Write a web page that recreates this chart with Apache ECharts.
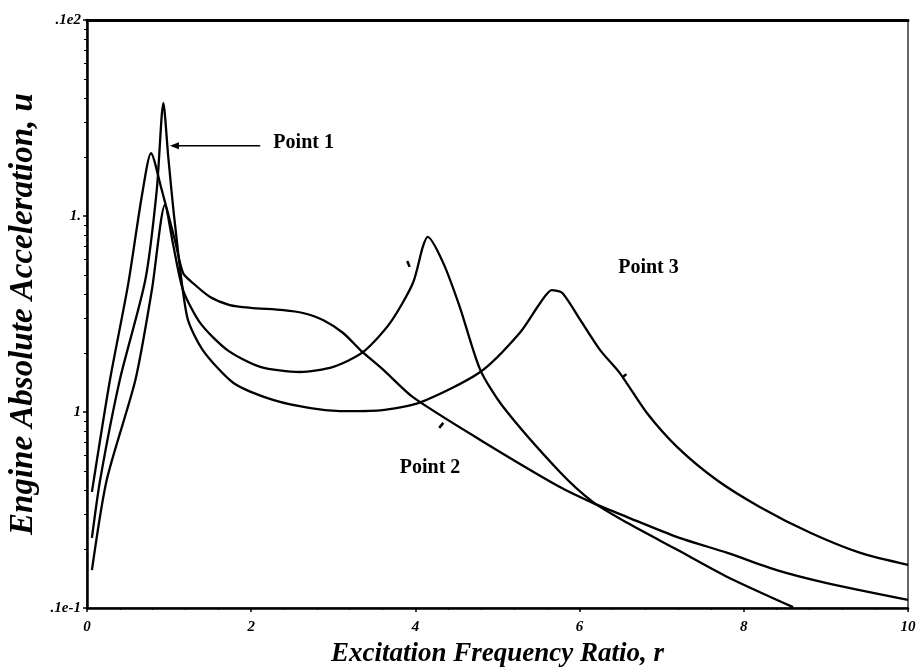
<!DOCTYPE html>
<html>
<head>
<meta charset="utf-8">
<script src="https://cdn.jsdelivr.net/npm/echarts@6/dist/echarts.min.js"></script>
<style>html,body{margin:0;padding:0;background:#fff}#c{width:919px;height:667px}</style>
</head>
<body>
<div id="c"></div>
<script>
// Curve with plateau (first peak ~0.78)
const rP = [0.06,0.28,0.50,0.67,0.78,0.91,1.07,1.17,1.29,1.50,1.74,1.99,2.39,2.63,2.88,3.12,3.33,3.61,3.97,4.79,5.76,6.16,6.58,7.19,7.80,8.40,9.01,10.0];
const vP = [0.0391,0.146,0.445,1.28,2.09,1.36,0.755,0.512,0.455,0.386,0.351,0.340,0.331,0.320,0.294,0.253,0.207,0.164,0.119,0.072,0.0414,0.0344,0.0291,0.0230,0.0191,0.0156,0.0134,0.0110];
// Curve with second peak ~4.15
const rL = [0.06,0.24,0.59,0.79,0.95,1.05,1.17,1.38,1.71,2.11,2.59,3.00,3.36,3.69,3.97,4.09,4.15,4.34,4.54,4.79,5.07,5.76,6.16,6.58,7.19,7.80,8.60];
const vL = [0.0156,0.045,0.146,0.419,1.14,0.711,0.419,0.284,0.207,0.170,0.160,0.170,0.202,0.284,0.455,0.695,0.782,0.575,0.344,0.164,0.106,0.0494,0.0348,0.0272,0.0198,0.0144,0.0101];
// Curve with tallest first peak and second peak ~5.66
const rT = [0.06,0.16,0.40,0.71,0.85,0.93,0.99,1.07,1.22,1.41,1.78,2.19,2.59,3.08,3.57,4.06,4.79,5.27,5.52,5.66,5.79,6.01,6.25,6.49,6.82,7.19,7.67,8.20,8.81,9.42,10.0];
const vT = [0.0228,0.045,0.146,0.471,1.36,3.78,2.00,0.921,0.305,0.207,0.141,0.118,0.107,0.101,0.102,0.112,0.160,0.253,0.360,0.419,0.405,0.294,0.207,0.158,0.0988,0.0662,0.045,0.0327,0.0242,0.0191,0.0166];
const xTicks = [0,2,4,6,8,10];
const yTickText = {'0.01':'.1e-1','0.1':'1','1':'1.','10':'.1e2'};

const pair = (r,v)=>r.map((x,i)=>[x,v[i]]);
const serif = '"Liberation Serif","DejaVu Serif",serif';
const chart = echarts.init(document.getElementById('c'));
const lineStyle = {color:'#000', width:2.3};
const mk = (name,d)=>({type:'line',name,data:d,showSymbol:false,smooth:0.25,lineStyle,clip:true});
chart.setOption({
  animation:false,
  backgroundColor:'#fff',
  grid:{left:87,right:11,top:20,bottom:59,show:true,borderColor:'#000',borderWidth:1.2,containLabel:false,outerBoundsMode:'none'},
  xAxis:[{type:'value',min:0,max:10,interval:2,
    name:'Excitation Frequency Ratio, r',nameLocation:'middle',nameGap:33,
    nameTextStyle:{fontFamily:serif,fontStyle:'italic',fontWeight:'bold',fontSize:27,color:'#000'},
    axisLine:{lineStyle:{color:'#000',width:2.5}},
    axisTick:{inside:false,length:4,lineStyle:{color:'#000',width:1.5}},
    minorTick:{show:true,splitNumber:5,length:2,lineStyle:{color:'#000'}},
    splitLine:{show:false},
    axisLabel:{fontFamily:serif,fontStyle:'italic',fontWeight:'bold',fontSize:15,color:'#000',margin:12,
      formatter:v=>xTicks.includes(v)?String(v):''}
  },{type:'value',min:0,max:10,interval:2,position:'top',
    axisLine:{lineStyle:{color:'#000',width:3}},
    axisTick:{inside:true,length:2,lineStyle:{color:'#000'}},
    axisLabel:{show:false},splitLine:{show:false}
  }],
  yAxis:{type:'log',logBase:10,min:0.01,max:10,
    name:'Engine Absolute Acceleration, u',nameLocation:'middle',nameGap:41,
    nameTextStyle:{fontFamily:serif,fontStyle:'italic',fontWeight:'bold',fontSize:33,color:'#000'},
    axisLine:{lineStyle:{color:'#000',width:2.5}},
    axisTick:{inside:false,length:4,lineStyle:{color:'#000',width:1.5}},
    minorTick:{show:true,splitNumber:9,length:3,lineStyle:{color:'#000'}},
    splitLine:{show:false},
    axisLabel:{fontFamily:serif,fontStyle:'italic',fontWeight:'bold',fontSize:15,color:'#000',margin:6,
      formatter:v=>{const k=String(+v.toPrecision(3));return yTickText[k]!==undefined?yTickText[k]:'';}}
  },
  series:[mk('P',pair(rP,vP)),mk('L',pair(rL,vL)),mk('T',pair(rT,vT))]
});
const px = (x,y)=>chart.convertToPixel({gridIndex:0},[x,y]);
const lab = (text,x,y)=>{const p=px(x,y);return {type:'text',x:p[0],y:p[1],style:{text,font:'bold 20px '+serif,fill:'#000',textVerticalAlign:'middle',verticalAlign:'middle'}};};
const a0 = px(1.01,2.28), a1 = px(2.11,2.28);
const tick = (a,b,c,d)=>{const p=px(a,b),q=px(c,d);return {type:'line',shape:{x1:p[0],y1:p[1],x2:q[0],y2:q[1]},style:{stroke:'#000',lineWidth:2.5}};};
chart.setOption({graphic:[
  lab('Point 1',2.27,2.36),
  lab('Point 2',3.81,0.052),
  lab('Point 3',6.47,0.543),
  {type:'line',shape:{x1:a0[0]+6,y1:a0[1],x2:a1[0],y2:a1[1]},style:{stroke:'#000',lineWidth:1.5}},
  {type:'polygon',shape:{points:[[a0[0],a0[1]],[a0[0]+9,a0[1]-3.5],[a0[0]+9,a0[1]+3.5]]},style:{fill:'#000'}},
  tick(3.90,0.59,3.93,0.55),
  tick(4.29,0.083,4.34,0.088),
  tick(6.52,0.15,6.57,0.156)
]});
</script>
</body>
</html>
